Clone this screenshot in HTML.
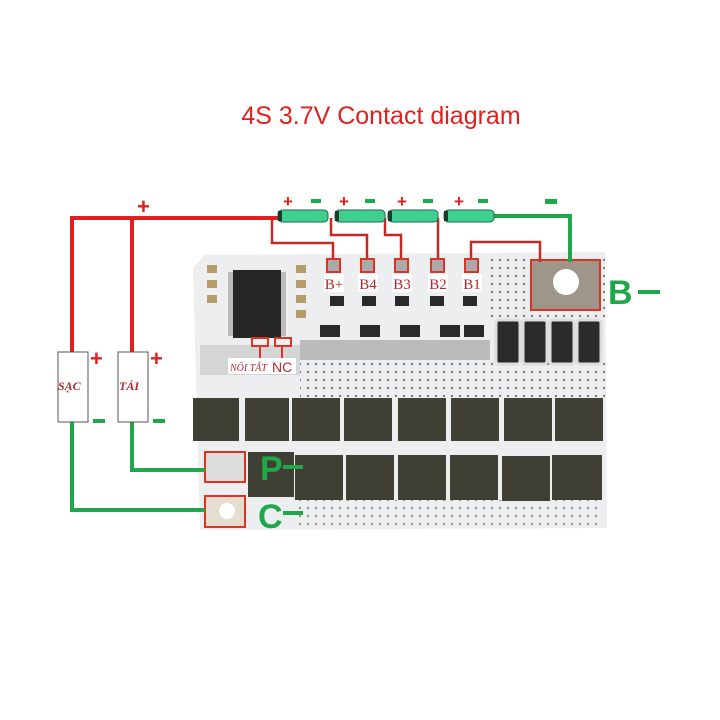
<!DOCTYPE html>
<html><head><meta charset="utf-8"><style>body{margin:0;background:#fff}svg{display:block}</style></head><body>
<svg width="720" height="720" viewBox="0 0 720 720" xmlns="http://www.w3.org/2000/svg" font-family="Liberation Sans, sans-serif">
<defs>
<pattern id="dots" width="8" height="8" patternUnits="userSpaceOnUse"><circle cx="4" cy="4" r="1.2" fill="#333"/></pattern>
</defs>
<text x="381" y="124" text-anchor="middle" font-size="25" fill="#e0201c">4S 3.7V Contact diagram</text>
<!-- board -->
<path d="M205 255 L605 252 L607 528 L200 530 L193 268 Z" fill="#eceef0"/>
<rect x="300" y="360" width="305" height="40" fill="url(#dots)" opacity=".6"/>
<rect x="490" y="255" width="115" height="65" fill="url(#dots)" opacity=".6"/>
<rect x="295" y="500" width="305" height="25" fill="url(#dots)" opacity=".5"/>
<rect x="200" y="345" width="100" height="30" fill="#bbb" opacity=".5"/>
<rect x="300" y="340" width="190" height="20" fill="#9a9a96" opacity=".6"/>
<!-- IC -->
<rect x="233" y="270" width="48" height="68" fill="#262626"/>
<g fill="#bbb"><rect x="228" y="272" width="5" height="64"/><rect x="281" y="272" width="5" height="64"/></g>
<g fill="#b59e6a"><rect x="207" y="265" width="10" height="8"/><rect x="207" y="280" width="10" height="8"/><rect x="207" y="295" width="10" height="8"/><rect x="296" y="265" width="10" height="8"/><rect x="296" y="280" width="10" height="8"/><rect x="296" y="295" width="10" height="8"/><rect x="296" y="310" width="10" height="8"/></g>
<!-- small transistors -->
<g fill="#2a2a2a"><rect x="320" y="325" width="20" height="12"/><rect x="360" y="325" width="20" height="12"/><rect x="400" y="325" width="20" height="12"/><rect x="440" y="325" width="20" height="12"/><rect x="464" y="325" width="20" height="12"/>
<rect x="330" y="296" width="14" height="10"/><rect x="362" y="296" width="14" height="10"/><rect x="395" y="296" width="14" height="10"/><rect x="430" y="296" width="14" height="10"/><rect x="463" y="296" width="14" height="10"/></g>
<!-- resistors -->
<g fill="#2b2b2b" stroke="#ddd" stroke-width="3"><rect x="496" y="320" width="24" height="44" rx="3"/><rect x="523" y="320" width="24" height="44" rx="3"/><rect x="550" y="320" width="24" height="44" rx="3"/><rect x="577" y="320" width="24" height="44" rx="3"/></g>
<!-- mosfets -->
<g fill="#403f33">
<rect x="193" y="398" width="46" height="43"/><rect x="245" y="398" width="44" height="43"/><rect x="292" y="398" width="48" height="43"/><rect x="344" y="398" width="48" height="43"/><rect x="398" y="398" width="48" height="43"/><rect x="451" y="398" width="48" height="43"/><rect x="504" y="398" width="48" height="43"/><rect x="555" y="398" width="48" height="43"/>
<rect x="248" y="452" width="46" height="45"/><rect x="295" y="455" width="48" height="45"/><rect x="346" y="455" width="48" height="45"/><rect x="398" y="455" width="48" height="45"/><rect x="450" y="455" width="48" height="45"/><rect x="502" y="456" width="48" height="45"/><rect x="552" y="455" width="50" height="45"/>
</g>
<!-- pads -->
<rect x="531" y="260" width="69" height="50" fill="#9f968a" stroke="#d32" stroke-width="2"/>
<circle cx="566" cy="282" r="13" fill="#fff"/>
<rect x="205" y="452" width="40" height="30" fill="#ddd" stroke="#d32" stroke-width="2"/>
<rect x="205" y="496" width="40" height="31" fill="#e5ddd0" stroke="#d32" stroke-width="2"/>
<circle cx="227" cy="511" r="8" fill="#fff"/>
<!-- wires -->
<g fill="none" stroke-width="4">
<path d="M72 352 V218 H290" stroke="#e02020"/>
<path d="M132 352 V218" stroke="#e02020"/>
<path d="M72 422 V510 H205" stroke="#1fa84a"/>
<path d="M132 422 V470 H205" stroke="#1fa84a"/>
<path d="M493 216 H570 V262" stroke="#1fa84a"/>
</g>
<g fill="none" stroke="#c62828" stroke-width="2.5">
<path d="M272 218 V243 H333 V258"/>
<path d="M331 218 V235 H367 V258"/>
<path d="M385 218 V235 H401 V258"/>
<path d="M438 218 V258"/>
<path d="M471 258 V242 H540 V262"/>
</g>
<!-- batteries -->
<g fill="#3fcf90" stroke="#1b6b45" stroke-width="1">
<rect x="278" y="210" width="50" height="12" rx="4"/><rect x="335" y="210" width="50" height="12" rx="4"/><rect x="388" y="210" width="50" height="12" rx="4"/><rect x="444" y="210" width="50" height="12" rx="4"/>
</g>
<g fill="#1d3a2a"><rect x="278" y="211" width="4" height="10"/><rect x="335" y="211" width="4" height="10"/><rect x="388" y="211" width="4" height="10"/><rect x="444" y="211" width="4" height="10"/></g>
<!-- B pads -->
<g fill="#aaa" stroke="#d32" stroke-width="2"><rect x="327" y="259" width="13" height="13"/><rect x="361" y="259" width="13" height="13"/><rect x="395" y="259" width="13" height="13"/><rect x="431" y="259" width="13" height="13"/><rect x="465" y="259" width="13" height="13"/></g>
<g font-family="Liberation Serif, serif" font-size="15" fill="#b3282d" text-anchor="middle">
<rect x="324" y="274" width="20" height="18" fill="#fff"/><text x="334" y="289">B+</text>
<rect x="358" y="274" width="20" height="18" fill="#fff"/><text x="368" y="289">B4</text>
<rect x="392" y="274" width="20" height="18" fill="#fff"/><text x="402" y="289">B3</text>
<rect x="428" y="274" width="20" height="18" fill="#fff"/><text x="438" y="289">B2</text>
<rect x="462" y="274" width="20" height="18" fill="#fff"/><text x="472" y="289">B1</text>
</g>
<g fill="none" stroke="#d32" stroke-width="2"><rect x="252" y="338" width="16" height="8"/><rect x="275" y="338" width="16" height="8"/><path d="M260 346 V358 M282 346 V358"/></g>
<rect x="228" y="358" width="68" height="16" fill="#fff"/>
<text x="230" y="371" font-family="Liberation Serif, serif" font-style="italic" font-size="10" fill="#b3282d">NỐI TẮT</text>
<text x="272" y="372" font-size="14" fill="#b3282d">NC</text>
<!-- boxes -->
<rect x="58" y="352" width="30" height="70" fill="#fff" stroke="#555"/>
<rect x="118" y="352" width="30" height="70" fill="#fff" stroke="#555"/>
<g font-family="Liberation Serif, serif" font-style="italic" font-weight="bold" font-size="12" fill="#b3282d"><text x="58" y="390">SẠC</text><text x="119" y="390">TẢI</text></g>
<!-- signs -->
<g font-weight="bold" fill="#e02020" font-size="22"><text x="137" y="214">+</text><text x="90" y="366">+</text><text x="150" y="366">+</text>
<text x="283" y="207" font-size="17">+</text><text x="339" y="207" font-size="17">+</text><text x="397" y="207" font-size="17">+</text><text x="454" y="207" font-size="17">+</text></g>
<g fill="#1fa84a"><rect x="93" y="419" width="12" height="4"/><rect x="153" y="419" width="12" height="4"/>
<rect x="311" y="199" width="10" height="4"/><rect x="365" y="199" width="10" height="4"/><rect x="423" y="199" width="10" height="4"/><rect x="478" y="199" width="10" height="4"/><rect x="545" y="199" width="12" height="5"/></g>
<g font-weight="bold" fill="#1fa84a" font-size="34"><text x="608" y="304">B</text><text x="260" y="480">P</text><text x="258" y="528">C</text></g>
<g fill="#1fa84a"><rect x="638" y="290" width="22" height="4"/><rect x="283" y="465" width="20" height="4"/><rect x="283" y="511" width="20" height="4"/></g>
</svg>
</body></html>
